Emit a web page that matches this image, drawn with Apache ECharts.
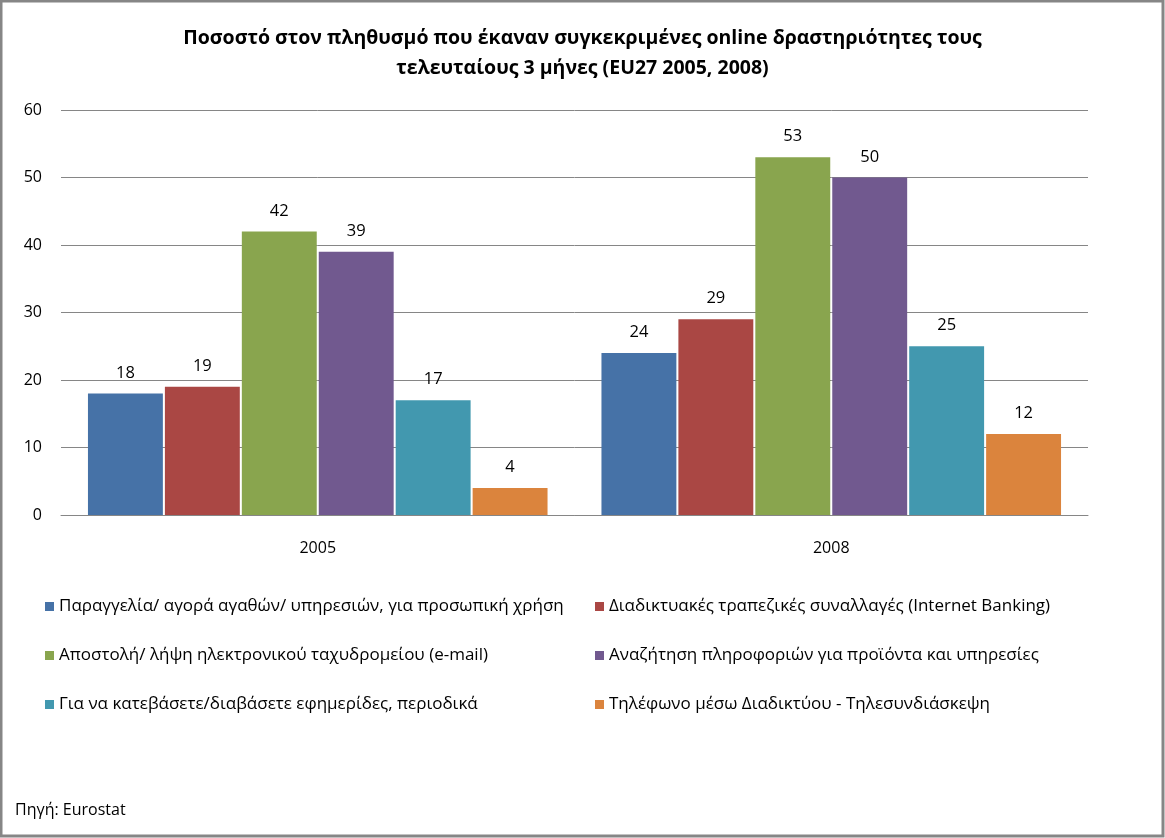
<!DOCTYPE html>
<html><head><meta charset="utf-8">
<script src="https://cdn.jsdelivr.net/npm/echarts@6/dist/echarts.min.js"></script>
<style>html,body{margin:0;padding:0;background:#fff}#c{width:1165px;height:838px}</style>
</head><body><div id="c"></div>
<script>
const categories = ['2005', '2008'];
const seriesNames = [
  'Παραγγελία/ αγορά αγαθών/ υπηρεσιών, για προσωπική χρήση',
  'Διαδικτυακές τραπεζικές συναλλαγές (Internet Banking)',
  'Αποστολή/ λήψη ηλεκτρονικού ταχυδρομείου (e-mail)',
  'Αναζήτηση πληροφοριών για προϊόντα και υπηρεσίες',
  'Για να κατεβάσετε/διαβάσετε εφημερίδες, περιοδικά',
  'Τηλέφωνο μέσω Διαδικτύου - Τηλεσυνδιάσκεψη'
];
const ordering = [18, 24];
const banking = [19, 29];
const email = [42, 53];
const search = [39, 50];
const news = [17, 25];
const voip = [4, 12];
const seriesValues = [ordering, banking, email, search, news, voip];
const colors = ['#4672A7', '#AA4744', '#89A54E', '#71598F', '#4298AF', '#DB843D'];
const yTicks = [0, 10, 20, 30, 40, 50, 60];

const FONT = '"Open Sans", Lato, sans-serif';
const chart = echarts.init(document.getElementById('c'), null, {renderer: 'canvas'});
const legendText = {fontFamily: FONT, fontSize: 17, color: '#000'};
chart.setOption({
  animation: false,
  color: colors,
  title: {
    text: 'Ποσοστό στον πληθυσμό που έκαναν συγκεκριμένες online δραστηριότητες τους\nτελευταίους 3 μήνες (EU27 2005, 2008)',
    left: 'center', top: 18,
    textStyle: {fontFamily: FONT, fontSize: 19.5, fontWeight: 'bold', color: '#000', lineHeight: 30}
  },
  graphic: [
    {type: 'rect', shape: {x: 1, y: 1, width: 1162, height: 835}, style: {fill: 'none', stroke: '#868686', lineWidth: 3}, silent: true},
    {type: 'text', left: 15, top: 802, style: {text: 'Πηγή: Eurostat', fontFamily: FONT, fontSize: 16, fill: '#000'}}
  ],
  legend: [
    {data: [seriesNames[0], seriesNames[2], seriesNames[4]], orient: 'vertical', left: 45, top: 598,
     itemWidth: 9, itemHeight: 9, itemGap: 32, icon: 'rect', textStyle: legendText, padding: 0},
    {data: [seriesNames[1], seriesNames[3], seriesNames[5]], orient: 'vertical', left: 595, top: 598,
     itemWidth: 9, itemHeight: 9, itemGap: 32, icon: 'rect', textStyle: legendText, padding: 0}
  ],
  grid: {left: 61, right: 77, top: 110, bottom: 323, containLabel: false},
  xAxis: {
    type: 'category', data: categories,
    axisLine: {lineStyle: {color: '#868686', width: 1}},
    axisTick: {show: false},
    axisLabel: {fontFamily: FONT, fontSize: 16, color: '#000', margin: 25}
  },
  yAxis: {
    type: 'value', min: yTicks[0], max: yTicks[yTicks.length - 1], interval: 10,
    axisLine: {show: false}, axisTick: {show: false},
    splitLine: {lineStyle: {color: '#868686', width: 1}},
    axisLabel: {fontFamily: FONT, fontSize: 16, color: '#000', margin: 19}
  },
  series: seriesValues.map((vals, i) => ({
    name: seriesNames[i], type: 'bar', data: vals,
    barGap: '2.7%', barCategoryGap: '10.5%',
    itemStyle: {color: colors[i]},
    label: {show: true, position: 'top', distance: 12, fontFamily: FONT, fontSize: 16.5, color: '#000'}
  }))
});
</script></body></html>
